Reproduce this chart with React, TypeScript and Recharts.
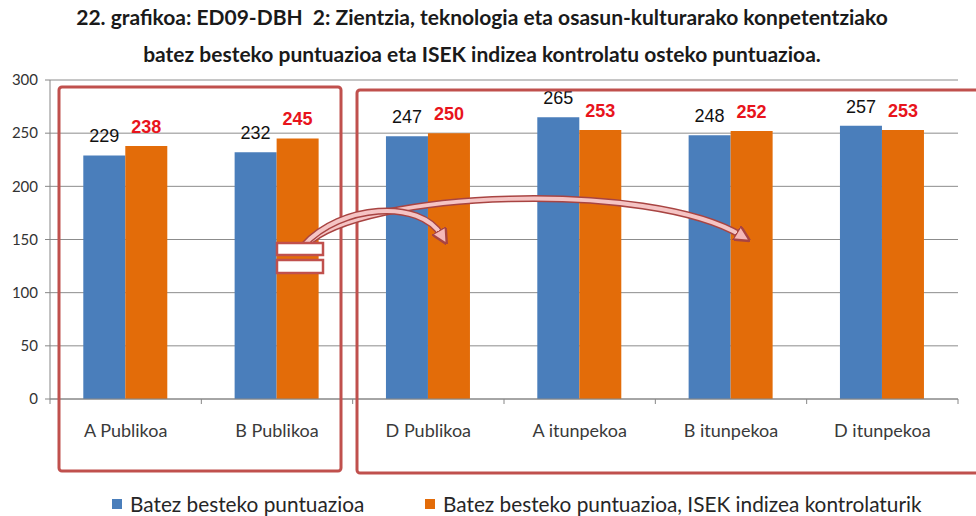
import React from "react";
import { Bar, BarChart, CartesianGrid, LabelList, XAxis, YAxis } from "recharts";

const categories = ["A Publikoa", "B Publikoa", "D Publikoa", "A itunpekoa", "B itunpekoa", "D itunpekoa"];
const batezBesteko = [229, 232, 247, 265, 248, 257];
const isekKontrolatuta = [238, 245, 250, 253, 252, 253];
const yTicks = [0, 50, 100, 150, 200, 250, 300];
const seriesNames = ["Batez besteko puntuazioa", "Batez besteko puntuazioa, ISEK indizea kontrolaturik"];
const titleLines = [
  "22. grafikoa: ED09-DBH  2: Zientzia, teknologia eta osasun-kulturarako konpetentziako",
  "batez besteko puntuazioa eta ISEK indizea kontrolatu osteko puntuazioa.",
];

const data = categories.map((name, i) => ({
  name,
  batez: batezBesteko[i],
  isek: isekKontrolatuta[i],
}));

const W = 976;
const H = 516;
const margin = { top: 80, right: 18, bottom: 77, left: 0 };
const yAxisWidth = 50;
const band = (W - margin.left - margin.right - yAxisWidth) / categories.length;

const BLUE = "#4a7ebb";
const ORANGE = "#e36c09";
const BOX_RED = "#c0504d";
const FONT = "Lato, 'Open Sans', sans-serif";

function CategoryTick(props: any) {
  const { x, y, payload, index } = props;
  const last = index === categories.length - 1;
  return (
    <g>
      <line x1={x - band / 2} x2={x - band / 2} y1={y} y2={y + 5} stroke="#868686" />
      {last && <line x1={x + band / 2} x2={x + band / 2} y1={y} y2={y + 5} stroke="#868686" />}
      <text x={x} y={y + 38} textAnchor="middle" fill="#3a3a3a" fontSize={18} fontFamily={FONT}>
        {payload.value}
      </text>
    </g>
  );
}

function Decorations() {
  return (
    <svg width={W} height={H} style={{ position: "absolute", left: 0, top: 0, pointerEvents: "none" }}>
      <defs>
        <marker id="head" viewBox="0 0 10 10" refX="4" refY="5" markerWidth="4" markerHeight="4" orient="auto">
          <path d="M0,0 L10,5 L0,10 z" fill="#f5b8b8" stroke="#a84442" strokeWidth="1.5" />
        </marker>
      </defs>
      <rect x={59} y={87} width={282} height={384} rx={3} fill="none" stroke={BOX_RED} strokeWidth={3} />
      <rect x={357} y={90} width={640} height={383} rx={3} fill="none" stroke={BOX_RED} strokeWidth={3} />
      {[
        "M 306 245 C 360 190, 650 180, 742 236",
        "M 304 245 C 340 205, 420 198, 442 236",
      ].map((d, i) => (
        <g key={i}>
          <path d={d} fill="none" stroke="#a84442" strokeWidth={7} strokeLinecap="round" />
          <path d={d} fill="none" stroke="#f5c4c4" strokeWidth={4} markerEnd="url(#head)" />
        </g>
      ))}
      <rect x={277} y={243} width={46} height={12} fill="#fff" stroke={BOX_RED} strokeWidth={2.5} />
      <rect x={277} y={260} width={46} height={13} fill="#fff" stroke={BOX_RED} strokeWidth={2.5} />
    </svg>
  );
}

export default function App() {
  return (
    <div style={{ position: "absolute", left: 0, top: 0, width: W, height: H, background: "#fff", fontFamily: FONT }}>
      <div
        style={{
          position: "absolute",
          top: -2,
          left: 0,
          width: W - 12,
          textAlign: "center",
          fontWeight: 700,
          fontSize: 21,
          lineHeight: "37px",
          color: "#1a1a1a",
        }}
      >
        {titleLines.map((t) => (
          <div key={t} style={{ whiteSpace: "pre" }}>
            {t}
          </div>
        ))}
      </div>
      <div style={{ position: "absolute", left: 0, top: 0 }}>
        <BarChart width={W} height={H} data={data} margin={margin} barCategoryGap="22%" barGap={0}>
          <CartesianGrid vertical={false} stroke="#8c8c8c" />
          <XAxis
            dataKey="name"
            height={40}
            tickSize={0}
            tickMargin={0}
            tickLine={false}
            axisLine={{ stroke: "#868686" }}
            tick={<CategoryTick />}
            interval={0}
          />
          <YAxis
            width={yAxisWidth}
            domain={[0, 300]}
            ticks={yTicks}
            tickSize={5}
            tickMargin={7}
            tickLine={{ stroke: "#868686" }}
            axisLine={{ stroke: "#868686" }}
            tick={{ fill: "#333", fontSize: 15, fontFamily: FONT }}
          />
          <Bar dataKey="batez" fill={BLUE} isAnimationActive={false}>
            <LabelList dataKey="batez" position="top" offset={13} fill="#111" fontSize={18} fontFamily="'Liberation Sans', Arial" />
          </Bar>
          <Bar dataKey="isek" fill={ORANGE} isAnimationActive={false}>
            <LabelList
              dataKey="isek"
              position="top"
              offset={13}
              fill="#e8141c"
              fontWeight={700}
              fontSize={18}
              fontFamily="'Liberation Sans', Arial"
            />
          </Bar>
        </BarChart>
      </div>
      <Decorations />
      <div style={{ position: "absolute", top: 491, left: 0, width: W, fontSize: 20.8, color: "#262626" }}>
        {seriesNames.map((name, i) => (
          <div key={name} style={{ position: "absolute", left: i === 0 ? 112 : 425, display: "flex", alignItems: "center" }}>
            <span style={{ width: 10, height: 10, background: i === 0 ? BLUE : ORANGE, marginRight: 8, display: "inline-block" }} />
            <span>{name}</span>
          </div>
        ))}
      </div>
    </div>
  );
}
